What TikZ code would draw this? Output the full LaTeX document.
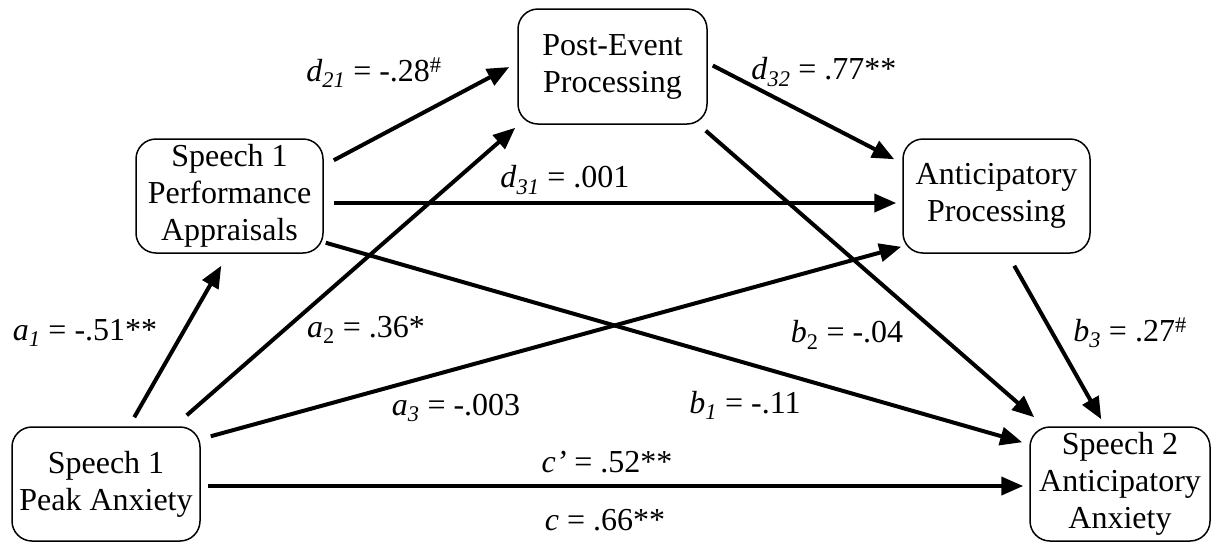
\documentclass[tikz,border=0pt]{standalone}
\usepackage{fontspec}
\setmainfont{Liberation Serif}
\usetikzlibrary{arrows.meta,calc}
\begin{document}
\begin{tikzpicture}[x=1pt,y=-1pt,
  box/.style={draw,line width=1.5pt,rounded corners=20pt,align=center,inner sep=0pt,
    minimum height=114pt,font=\fontsize{32}{37}\selectfont},
  arr/.style={line width=4pt,-{Triangle[length=22pt,width=18pt]}},
  lab/.style={font=\fontsize{32}{37}\selectfont,inner sep=0pt}]
\useasboundingbox (0,0) rectangle (1212,542);
% nodes
\node[box,minimum width=188pt] (PA) at (106,484) {Speech 1\\Peak Anxiety};
\node[box,minimum width=187pt] (SP) at (229.5,196) {Speech 1\\Performance\\Appraisals};
\node[box,minimum width=189pt,minimum height=115pt] (PEP) at (612.5,66.5) {Post-Event\\Processing};
\node[box,minimum width=187pt] (AP) at (996.5,196) {Anticipatory\\Processing};
\node[box,minimum width=180pt] (SA) at (1120,484) {Speech 2\\Anticipatory\\Anxiety};
% connectors
\draw[arr] ($(PA.north west)+(123,-9)$) -- ($(SP.south west)+(86,12)$);
\draw[arr] ($(PA.north east)+(-14,-11)$) -- ($(PEP.south west)+(-2,3)$);
\draw[arr] ($(PA.north east)+(10,10)$) -- ($(AP.south west)+(-1,-7)$);
\draw[arr] ($(PA.east)+(7,2)$) -- ($(SA.west)+(-6,2)$);
\draw[arr] ($(SP.north east)+(10,22)$) -- ($(PEP.west)+(-8,0.5)$);
\draw[arr] ($(SP.east)+(10,7)$) -- ($(AP.west)+(-6,7)$);
\draw[arr] ($(PEP.east)+(5,-1)$) -- ($(AP.north west)+(-8,21)$);
\draw[arr] ($(PEP.south east)+(-2,6)$) -- ($(SA.north west)+(5,-9)$);
\draw[arr] ($(SP.south east)+(2,-11)$) -- ($(SA.north west)+(-7,16)$);
\draw[arr] ($(AP.south west)+(112,12)$) -- ($(SA.north west)+(72,-7)$);
% labels
\node[lab] (l21) at (374,73) {\textit{d}\textsubscript{\textit{21}} = -.28\textsuperscript{\#}};
\node[lab] (l32) at (824,72) {\textit{d}\textsubscript{\textit{32}} = .77**};
\node[lab] (l31) at (565,180) {\textit{d}\textsubscript{\textit{31}} = .001};
\node[lab] (la1) at (85,333) {\textit{a}\textsubscript{\textit{1}} = -.51**};
\node[lab] (la2) at (366,330) {\textit{a}\textsubscript{2} = .36*};
\node[lab] (la3) at (456,408) {\textit{a}\textsubscript{\textit{3}} = -.003};
\node[lab] (lb2) at (847,335) {\textit{b}\textsubscript{2} = -.04};
\node[lab] (lb1) at (745,405) {\textit{b}\textsubscript{\textit{1}} = -.11};
\node[lab] (lb3) at (1130,333) {\textit{b}\textsubscript{\textit{3}} = .27\textsuperscript{\#}};
\node[lab] (lcp) at (607,462) {\textit{c’} = .52**};
\node[lab] (lc) at (605,520) {\textit{c} = .66**};
\end{tikzpicture}
\end{document}
